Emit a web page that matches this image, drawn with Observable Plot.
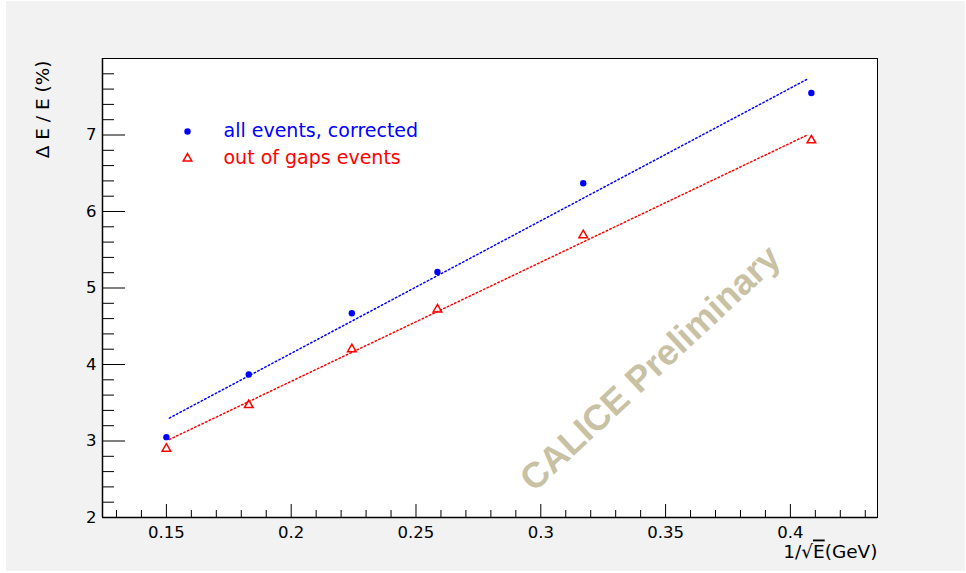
<!DOCTYPE html>
<html><head><meta charset="utf-8">
<script src="https://cdn.jsdelivr.net/npm/d3@7"></script>
<script src="https://cdn.jsdelivr.net/npm/@observablehq/plot@0.6"></script>
<style>
html,body{margin:0;padding:0;background:#fff;}
#chart svg{display:block;background:#f2f2f2;box-shadow: inset 6px 1px 0 #fff, inset -1px -2px 0 #fff;}
</style></head><body><div id="chart"></div>
<script>
// Data (1/sqrt(E) for E = 45, 30, 20, 15, 10, 6 GeV)
const invSqrtE = [0.1500, 0.1830, 0.2243, 0.2586, 0.3170, 0.4084];
const allEventsCorrected = [3.05, 3.87, 4.67, 5.21, 6.37, 7.55];
const outOfGapsEvents = [2.90, 3.47, 4.20, 4.72, 5.69, 6.93];
// Linear-fit line endpoints
const fitX = [0.1512, 0.4068];
const fitAllEvents = [3.30, 7.73];
const fitOutOfGaps = [3.02, 7.00];
// Axes
const xDomain = [0.1244, 0.4349];
const yDomain = [2, 8];
const xMajorTicks = [0.15, 0.2, 0.25, 0.3, 0.35, 0.4];
const xMinorTicks = [0.13, 0.14, 0.16, 0.17, 0.18, 0.19, 0.21, 0.22, 0.23, 0.24, 0.26, 0.27, 0.28, 0.29, 0.31, 0.32, 0.33, 0.34, 0.36, 0.37, 0.38, 0.39, 0.41, 0.42, 0.43];
const yMajorTicks = [2, 3, 4, 5, 6, 7];
const yMinorTicks = [2.2, 2.4, 2.6, 2.8, 3.2, 3.4, 3.6, 3.8, 4.2, 4.4, 4.6, 4.8, 5.2, 5.4, 5.6, 5.8, 6.2, 6.4, 6.6, 6.8, 7.2, 7.4, 7.6, 7.8];
const legendLabels = ["all events, corrected", "out of gaps events"];
const xTitle = "1/√E(GeV)";
const yTitle = "Δ E / E (%)";
const watermark = "CALICE Preliminary";

const ptsAll = invSqrtE.map((x, i) => ({x, y: allEventsCorrected[i]}));
const ptsGaps = invSqrtE.map((x, i) => ({x, y: outOfGapsEvents[i]}));
const fitAll = fitX.map((x, i) => ({x, y: fitAllEvents[i]}));
const fitGaps = fitX.map((x, i) => ({x, y: fitOutOfGaps[i]}));

const font = "'DejaVu Sans', 'Liberation Sans', Arial, sans-serif";
const chart = Plot.plot({
  width: 966, height: 573,
  marginLeft: 102, marginTop: 58, marginRight: 89, marginBottom: 56,
  style: {fontFamily: font, fontSize: "16.5px", color: "black", background: "#f2f2f2"},
  x: {domain: xDomain, label: null},
  y: {domain: yDomain, label: null},
  marks: [
    Plot.frame({fill: "white"}),
    Plot.text([watermark], {frameAnchor: "top-left", dx: 548, dy: 310, rotate: -43, textAnchor: "middle", lineAnchor: "middle", fontSize: 36, fontWeight: "bold", fontFamily: "'Liberation Sans', Arial, sans-serif", fill: "#c9c1a3", text: d => d}),
    Plot.line(fitAll, {x: "x", y: "y", stroke: "blue", strokeWidth: 1.5, strokeDasharray: "1.5,2.5"}),
    Plot.line(fitGaps, {x: "x", y: "y", stroke: "red", strokeWidth: 1.5, strokeDasharray: "1.5,2.5"}),
    Plot.dot(ptsAll, {x: "x", y: "y", r: 3.2, fill: "blue"}),
    Plot.dot(ptsGaps, {x: "x", y: "y", r: 3.2, symbol: "triangle", fill: "none", stroke: "red", strokeWidth: 1.5}),
    // ticks (inward, ROOT style)
    Plot.ruleX(xMinorTicks, {x: d => d, y1: d => yDomain[0], y2: d => yDomain[0], insetTop: -7, stroke: "black"}),
    Plot.ruleX(xMajorTicks, {x: d => d, y1: d => yDomain[0], y2: d => yDomain[0], insetTop: -13, stroke: "black"}),
    Plot.ruleY(yMinorTicks, {y: d => d, x1: d => xDomain[0], x2: d => xDomain[0], insetRight: -12, stroke: "black"}),
    Plot.ruleY(yMajorTicks, {y: d => d, x1: d => xDomain[0], x2: d => xDomain[0], insetRight: -23, stroke: "black"}),
    Plot.axisX({ticks: xMajorTicks, tickSize: 0, tickPadding: 9, tickFormat: d => String(d), fontSize: 16.5, label: null}),
    Plot.axisY({ticks: yMajorTicks, tickSize: 0, tickPadding: 6, tickFormat: d => String(d), fontSize: 16.5, label: null}),
    Plot.frame({stroke: "black", strokeWidth: 1}),
    Plot.ruleX([xDomain[0]], {x: d => d, stroke: "black", strokeWidth: 1.5}),
    Plot.ruleY([yDomain[0]], {y: d => d, stroke: "black", strokeWidth: 1.5}),
    // legend
    Plot.dot([legendLabels[0]], {frameAnchor: "top-left", dx: 85, dy: 73, r: 3.2, fill: "blue"}),
    Plot.dot([legendLabels[1]], {frameAnchor: "top-left", dx: 85, dy: 100, r: 3.2, symbol: "triangle", fill: "none", stroke: "red", strokeWidth: 1.5}),
    Plot.text([legendLabels[0]], {frameAnchor: "top-left", dx: 121, dy: 72, text: d => d, textAnchor: "start", lineAnchor: "middle", fill: "blue", fontSize: 19}),
    Plot.text([legendLabels[1]], {frameAnchor: "top-left", dx: 121, dy: 99, text: d => d, textAnchor: "start", lineAnchor: "middle", fill: "red", fontSize: 19}),
    // axis titles
    Plot.text([yTitle], {frameAnchor: "top-left", dx: -54, dy: 2, rotate: -90, text: d => d, textAnchor: "end", lineAnchor: "bottom", fontSize: 18.5}),
    Plot.text([xTitle], {frameAnchor: "bottom-right", dx: 0, dy: 40, text: d => d, textAnchor: "end", lineAnchor: "bottom", fontSize: 18.5})
  ]
});
document.getElementById("chart").appendChild(chart);
d3.select(chart).selectAll("text").filter(function() { return this.textContent === xTitle; }).each(function() {
  const t = d3.select(this);
  t.text(null);
  t.append("tspan").text("1/√");
  t.append("tspan").style("text-decoration", "overline").text("E");
  t.append("tspan").text("(GeV)");
});
</script></body></html>
